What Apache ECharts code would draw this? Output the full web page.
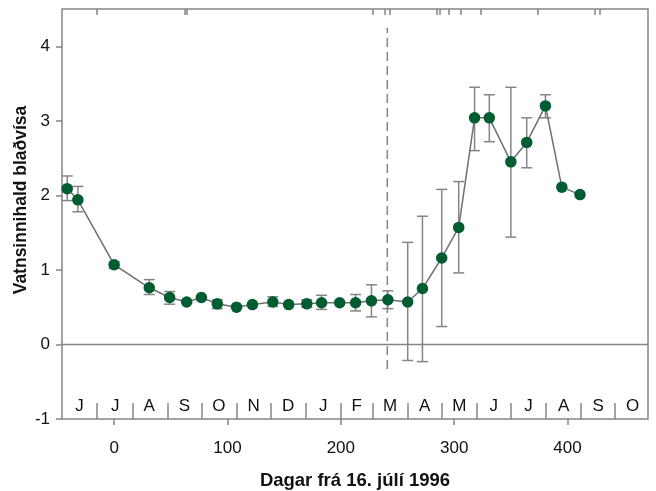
<!DOCTYPE html>
<html><head><meta charset="utf-8">
<script src="https://cdn.jsdelivr.net/npm/echarts@6/dist/echarts.min.js"></script>
<style>html,body{margin:0;padding:0;background:#fff}#c{width:656px;height:491px}</style>
</head><body><div id="c"></div>
<script>
const days = [-41.4, -32, 0, 31, 49, 64, 77, 91, 108, 122, 140, 154, 170, 183, 199, 213, 227, 241.5, 259, 272, 289, 304, 318, 331, 350, 364, 380.5, 395, 411];
const values = [2.09, 1.94, 1.07, 0.76, 0.63, 0.57, 0.63, 0.545, 0.50, 0.535, 0.57, 0.535, 0.545, 0.56, 0.56, 0.56, 0.585, 0.60, 0.57, 0.75, 1.16, 1.57, 3.04, 3.04, 2.45, 2.71, 3.20, 2.11, 2.01];
const errLow = [1.93, 1.78, 1.02, 0.67, 0.54, null, null, 0.48, null, null, 0.51, null, 0.50, 0.47, null, 0.45, 0.37, 0.48, -0.215, -0.23, 0.24, 0.96, 2.60, 2.72, 1.44, 2.37, 3.04, null, null];
const errHigh = [2.26, 2.12, 1.11, 0.87, 0.71, null, null, 0.60, null, null, 0.64, null, 0.60, 0.66, null, 0.67, 0.80, 0.72, 1.37, 1.72, 2.08, 2.185, 3.45, 3.35, 3.45, 3.04, 3.35, null, null];
const xTicks = [0, 100, 200, 300, 400];
const yTicks = [-1, 0, 1, 2, 3, 4];
const monthBounds = [-15, 16, 47, 77, 108, 138, 169, 200, 228, 259, 289, 320, 350, 381, 412, 442];
const monthCenters = [-30.5, 1, 31, 62, 92.5, 123, 153.5, 184.5, 214, 243.5, 274, 304.5, 335, 365.5, 396.5, 427, 457.5];
const monthLabels = ['J','J','A','S','O','N','D','J','F','M','A','M','J','J','A','S','O'];
const topMarks = [-15.5, 62, 64, 228, 239, 243.5, 284.6, 287.5, 295.4, 305.7, 323.3, 374, 424, 428];
const dashedX = 241;
const dashedY = [-0.33, 4.25];

const XMIN = -46, XMAX = 471;
const GRAY = '#858585';
const FONT = 'Liberation Sans, Arial, sans-serif';

const errData = [];
for (let i = 0; i < days.length; i++) {
  if (errLow[i] != null) errData.push([days[i], errLow[i], errHigh[i]]);
}

const chart = echarts.init(document.getElementById('c'));
chart.setOption({
  animation: false,
  grid: { left: 62, right: 8, top: 9, bottom: 72, show: true, borderColor: GRAY, borderWidth: 1.5, backgroundColor: 'transparent',
    containLabel: false, outerBoundsMode: 'none' },
  xAxis: [
    { type: 'value', min: XMIN, max: XMAX, position: 'bottom', splitLine: { show: false },
      axisLine: { show: false, onZero: false },
      axisTick: { show: true, customValues: xTicks, length: 6, lineStyle: { color: GRAY, width: 1.5 } },
      axisLabel: { customValues: xTicks, margin: 21, fontSize: 17, color: '#111', fontFamily: FONT },
      name: 'Dagar frá 16. júlí 1996', nameLocation: 'middle', nameGap: 52,
      nameTextStyle: { fontSize: 18.5, fontWeight: 'bold', color: '#111', fontFamily: FONT } },
    { type: 'value', min: XMIN, max: XMAX, position: 'bottom', splitLine: { show: false },
      axisLine: { show: false, onZero: false },
      axisTick: { show: true, inside: true, customValues: monthBounds, length: 16, lineStyle: { color: GRAY, width: 1.5 } },
      axisLabel: { show: true, inside: true, customValues: monthCenters, margin: 4, fontSize: 17, color: '#111', fontFamily: FONT,
        formatter: v => { const k = monthCenters.indexOf(v); return k >= 0 ? monthLabels[k] : ''; } } },
    { type: 'value', min: XMIN, max: XMAX, position: 'top', splitLine: { show: false },
      axisLine: { show: false, onZero: false },
      axisTick: { show: true, inside: true, customValues: topMarks, length: 6, lineStyle: { color: GRAY, width: 1.5 } },
      axisLabel: { show: false } }
  ],
  yAxis: {
    type: 'value', min: -1, max: 4.5, interval: 1, splitLine: { show: false },
    axisLine: { show: false, onZero: false },
    axisTick: { show: true, customValues: yTicks, length: 6, lineStyle: { color: GRAY, width: 1.5 } },
    axisLabel: { customValues: yTicks, margin: 12, fontSize: 17, color: '#111', fontFamily: FONT },
    name: 'Vatnsinnihald blaðvísa', nameLocation: 'middle', nameGap: 32, nameRotate: 90, nameMoveOverlap: false,
    nameTextStyle: { fontSize: 17.5, fontWeight: 'bold', color: '#111', fontFamily: FONT, padding: [0, 0, 0, 28] }
  },
  series: [
    { type: 'line', data: [[XMIN, 0], [XMAX, 0]], symbol: 'none', silent: true, z: 1,
      lineStyle: { color: GRAY, width: 1.5 } },
    { type: 'line', data: [[dashedX, dashedY[0]], [dashedX, dashedY[1]]], symbol: 'none', silent: true, z: 1,
      lineStyle: { color: GRAY, width: 1.5, type: [9, 5] } },
    { type: 'custom', data: errData, z: 2, silent: true,
      renderItem: (params, api) => {
        const x = api.value(0);
        const lo = api.coord([x, api.value(1)]);
        const hi = api.coord([x, api.value(2)]);
        const w = 5.5;
        const st = { stroke: GRAY, lineWidth: 1.5 };
        return { type: 'group', children: [
          { type: 'line', shape: { x1: lo[0], y1: lo[1], x2: hi[0], y2: hi[1] }, style: st },
          { type: 'line', shape: { x1: lo[0] - w, y1: lo[1], x2: lo[0] + w, y2: lo[1] }, style: st },
          { type: 'line', shape: { x1: hi[0] - w, y1: hi[1], x2: hi[0] + w, y2: hi[1] }, style: st }
        ] };
      } },
    { type: 'line', data: days.map((d, i) => [d, values[i]]), z: 3,
      symbol: 'circle', symbolSize: 11.5,
      itemStyle: { color: '#005c31', borderWidth: 0 },
      lineStyle: { color: '#6f6f6f', width: 1.5 } }
  ]
});
</script></body></html>
